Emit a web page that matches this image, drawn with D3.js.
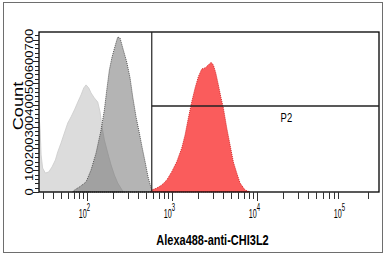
<!DOCTYPE html>
<html>
<head>
<meta charset="utf-8">
<script src="https://cdn.jsdelivr.net/npm/d3@7"></script>
<style>
  body { margin: 0; background: #fff; }
  text { font-family: "Liberation Sans", Arial, sans-serif; }
</style>
</head>
<body>
<div id="chart"></div>
<script>
const width = 385,
  height = 256;
const plot = { left: 39, right: 379, top: 32, bottom: 192 };
const stretch = 1.3; // the source picture is taller than it is wide

// [fluorescence, count]
const unstained = [
  [27.5, 330], [28, 290], [28.8, 170], [30, 110], [32.3, 87], [35.4, 92],
  [38.7, 115], [42.4, 147], [45.2, 184], [49.4, 225], [54.1, 271], [59.3, 317],
  [64.8, 345], [71, 377], [77.8, 413], [85, 446], [91.4, 478], [97.3, 492],
  [104.7, 478], [111.4, 455], [121.8, 432], [133.6, 413], [142.2, 368],
  [150.1, 299], [159.8, 239], [175.2, 179], [191.6, 124], [209.5, 78],
  [229.6, 41], [258, 9], [270, 0]
];
const isotype = [
  [68, 0], [71, 9], [81.2, 23], [97.3, 46], [111.4, 101], [127.6, 179],
  [146.1, 285], [159.8, 377], [170.6, 469], [182.9, 560], [196.8, 620],
  [215.3, 675], [229.6, 712], [244.5, 707], [267.2, 652], [293, 597],
  [320.5, 524], [344.9, 436], [377, 345], [412.3, 271], [443.3, 207],
  [485, 133], [522, 69], [566.7, 18], [593, 5], [600, 0]
];
const chi3l2 = [
  [560, 0], [576, 9], [661, 18], [757, 32], [867, 55], [992, 93], [1136, 139],
  [1301, 202], [1422, 262], [1555, 340], [1706, 415], [1866, 478], [2039, 530],
  [2235, 565], [2443, 570], [2671, 583], [2877, 596], [3062, 583], [3268, 547],
  [3506, 492], [3769, 432], [4014, 386], [4401, 294], [4812, 216], [5262, 138],
  [5768, 87], [6310, 41], [7223, 9], [8270, 0]
];

const xDecades = [100, 1000, 10000, 100000];
const xDomain = [27.2, 272000];
const yDomain = [0, 735];
const yLabels = [0, 100, 200, 300, 400, 500, 600, 700];
const gateMin = 577,
  gateCount = 395;

const svg = d3
  .select("#chart")
  .append("svg")
  .attr("width", width)
  .attr("height", height);

// outer frame
svg
  .append("rect")
  .attr("x", 3.5)
  .attr("y", 2.5)
  .attr("width", 379)
  .attr("height", 250)
  .attr("fill", "none")
  .attr("stroke", "#6e6e6e");

const x = d3.scaleLog().domain(xDomain).range([plot.left, plot.right]);
const y = d3.scaleLinear().domain(yDomain).range([plot.bottom, plot.top]);

const area = d3
  .area()
  .x((d) => x(d[0]))
  .y0(y(0))
  .y1((d) => y(d[1]));

svg
  .append("path")
  .datum(unstained)
  .attr("d", area)
  .attr("fill", "#dcdcdc")
  .attr("stroke", "#cacaca")
  .attr("stroke-width", 0.8);

svg
  .append("path")
  .datum(isotype)
  .attr("d", area)
  .attr("fill", "#5c5c5c")
  .attr("fill-opacity", 0.46)
  .attr("stroke", "#555")
  .attr("stroke-width", 1)
  .attr("stroke-dasharray", "1,1");

svg
  .append("path")
  .datum(chi3l2)
  .attr("d", area)
  .attr("fill", "#fa5c5c")
  .attr("stroke", "#d32a2a")
  .attr("stroke-width", 1)
  .attr("stroke-dasharray", "1,1");

// plot box
svg
  .append("rect")
  .attr("x", plot.left)
  .attr("y", plot.top)
  .attr("width", plot.right - plot.left)
  .attr("height", plot.bottom - plot.top)
  .attr("fill", "none")
  .attr("stroke", "#000")
  .attr("stroke-width", 1.3);

// gate P2
svg
  .append("line")
  .attr("x1", x(gateMin))
  .attr("x2", x(gateMin))
  .attr("y1", plot.top)
  .attr("y2", plot.bottom)
  .attr("stroke", "#222")
  .attr("stroke-width", 1.2);
svg
  .append("line")
  .attr("x1", x(gateMin))
  .attr("x2", plot.right)
  .attr("y1", y(gateCount))
  .attr("y2", y(gateCount))
  .attr("stroke", "#222")
  .attr("stroke-width", 1.3);
svg
  .append("text")
  .attr("transform", `translate(${(x(gateMin) + plot.right) / 2 + 21},${y(gateCount) + 15.5}) scale(0.9,${stretch})`)
  .attr("text-anchor", "middle")
  .style("font-size", "10.5px")
  .text("P2");

// x axis ticks
const xTicks = [];
xDecades.forEach((d) => {
  for (let k = 1; k < 10; k++) xTicks.push(d * k / 10);
});
xTicks.push(100000 * 2);
svg
  .append("g")
  .selectAll("line")
  .data(xTicks.filter((t) => t >= xDomain[0] && t <= xDomain[1]))
  .join("line")
  .attr("x1", (d) => Math.round(x(d)) + 0.5)
  .attr("x2", (d) => Math.round(x(d)) + 0.5)
  .attr("y1", plot.bottom)
  .attr("y2", (d) => plot.bottom + (xDecades.includes(d) ? 9 : 7))
  .attr("stroke", "#333");

// decade labels: 10 with a raised exponent
svg
  .append("g")
  .selectAll("text")
  .data(xDecades)
  .join("text")
  .attr("transform", (d) => `translate(${x(d) - 0.3},217.5) scale(0.72,${stretch})`)
  .attr("text-anchor", "end")
  .style("font-size", "10px")
  .text("10");
svg
  .append("g")
  .selectAll("text")
  .data(xDecades)
  .join("text")
  .attr("transform", (d) => `translate(${x(d) - 0.3},210.5) scale(0.75,${stretch})`)
  .style("font-size", "8px")
  .text((d) => Math.round(Math.log10(d)));

svg
  .append("text")
  .attr("transform", `translate(212.5,245) scale(1,${stretch})`)
  .attr("text-anchor", "middle")
  .style("font-size", "11px")
  .style("font-weight", "bold")
  .text("Alexa488-anti-CHI3L2");

// y axis ticks
svg
  .append("g")
  .selectAll("line")
  .data(d3.range(0, yDomain[1], 20))
  .join("line")
  .attr("x1", plot.left)
  .attr("x2", (d) => plot.left - (d % 100 === 0 ? 6 : 4))
  .attr("y1", (d) => Math.round(y(d)) + 0.5)
  .attr("y2", (d) => Math.round(y(d)) + 0.5)
  .attr("stroke", "#222");

svg
  .append("g")
  .selectAll("text")
  .data(yLabels)
  .join("text")
  .attr("transform", (d) => `translate(33,${y(d)}) scale(1,${stretch}) rotate(-90)`)
  .attr("text-anchor", "middle")
  .style("font-size", "10px")
  .text((d) => d);

svg
  .append("text")
  .attr("transform", `translate(23,106) scale(1,${stretch}) rotate(-90)`)
  .attr("text-anchor", "middle")
  .style("font-size", "14px")
  .text("Count");
</script>
</body>
</html>
